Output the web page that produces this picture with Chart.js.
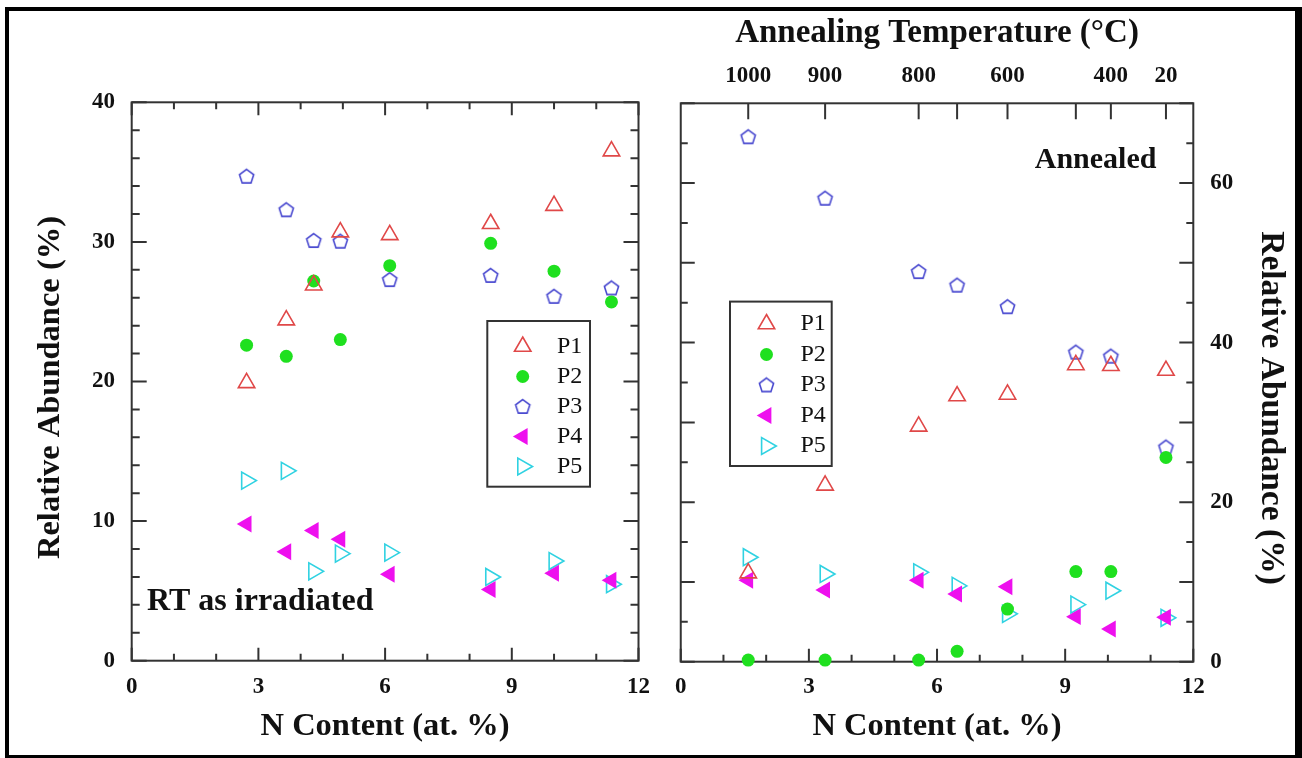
<!DOCTYPE html>
<html>
<head>
<meta charset="utf-8">
<script src="https://cdn.jsdelivr.net/npm/chart.js@4.4.1/dist/chart.umd.min.js"></script>
<style>
  html, body { margin: 0; padding: 0; background: #fff; }
  #wrap { position: relative; width: 1302px; height: 758px; overflow: hidden; background: #fff; }
  canvas { position: absolute; top: 0; }
  #leftChart { left: 0; }
  #rightChart { left: 663px; }
  #frame {
    position: absolute; left: 5px; top: 7px; width: 1297px; height: 751px;
    box-sizing: border-box; border-style: solid; border-color: #000;
    border-width: 4px 7px 3px 4px; pointer-events: none;
  }
</style>
</head>
<body>
<div id="wrap">
  <canvas id="leftChart" width="663" height="758"></canvas>
  <canvas id="rightChart" width="639" height="758"></canvas>
  <div id="frame"></div>
</div>
<script>
const seriesNames = ['P1', 'P2', 'P3', 'P4', 'P5'];

// RT as irradiated
const nLeft = [2.72, 3.66, 4.31, 4.94, 6.11, 8.50, 10.0, 11.36];
const p1Left = [19.9, 24.4, 26.9, 30.7, 30.5, 31.3, 32.6, 36.5];
const p2Left = [22.6, 21.8, 27.2, 23.0, 28.3, 29.9, 27.9, 25.7];
const p3Left = [34.7, 32.3, 30.1, 30.05, 27.3, 27.6, 26.1, 26.7];
const p4Left = [9.8, 7.8, 9.33, 8.7, 6.2, 5.1, 6.26, 5.76];
const p5Left = [12.9, 13.6, 6.4, 7.67, 7.74, 6.0, 7.14, 5.48];

// annealed
const nRight = [1.58, 3.38, 5.57, 6.47, 7.65, 9.25, 10.07, 11.36];
const p1Right = [11.1, 22.1, 29.5, 33.3, 33.5, 37.2, 37.1, 36.5];
const p2Right = [0.2, 0.2, 0.2, 1.3, 6.6, 11.3, 11.3, 25.6];
const p3Right = [65.8, 58.1, 48.9, 47.2, 44.5, 38.8, 38.3, 26.9];
const p4Right = [10.2, 9.0, 10.2, 8.5, 9.4, 5.65, 4.1, 5.56];
const p5Right = [13.1, 11.0, 11.2, 9.5, 6.0, 7.15, 8.9, 5.5];

// top axis of the annealed panel
const tempPositions = [1.58, 3.38, 5.57, 6.47, 7.65, 9.25, 10.07, 11.36];
const tempLabels = ['1000', '900', '800', '', '600', '', '400', '20'];

const serif = '"Liberation Serif", "Times New Roman", serif';
const tickFont = { family: serif, size: 23, weight: 'bold' };
const ink = '#111';

function pentagon(color, r, lw) {
  const s = Math.ceil(2 * r + lw + 2);
  const c = document.createElement('canvas');
  c.width = s; c.height = s;
  const g = c.getContext('2d');
  g.strokeStyle = color; g.lineWidth = lw;
  g.beginPath();
  for (let i = 0; i < 5; i++) {
    const a = -Math.PI / 2 + i * 2 * Math.PI / 5;
    const px = s / 2 + r * Math.cos(a), py = s / 2 + 0.6 + r * Math.sin(a);
    if (i) g.lineTo(px, py); else g.moveTo(px, py);
  }
  g.closePath();
  g.stroke();
  return c;
}

const styles = [
  { pointStyle: 'triangle', pointRadius: 9.5, pointRotation: 0, pointBorderColor: '#e04848', pointBackgroundColor: 'rgba(0,0,0,0)', pointBorderWidth: 1.6 },
  { pointStyle: 'circle', pointRadius: 6.5, pointRotation: 0, pointBorderColor: '#1fe01f', pointBackgroundColor: '#1fe01f', pointBorderWidth: 0 },
  { pointStyle: pentagon('#4a4ad0', 7.5, 1.6), pointRadius: 8, pointRotation: 0, pointBorderColor: '#4a4ad0', pointBackgroundColor: 'rgba(0,0,0,0)', pointBorderWidth: 1.6 },
  { pointStyle: 'triangle', pointRadius: 9.8, pointRotation: -90, pointBorderColor: '#ee10ee', pointBackgroundColor: '#ee10ee', pointBorderWidth: 0 },
  { pointStyle: 'triangle', pointRadius: 9.8, pointRotation: 90, pointBorderColor: '#30d2e2', pointBackgroundColor: 'rgba(0,0,0,0)', pointBorderWidth: 1.6 }
];

function makeDatasets(xs, series) {
  return series.map((ys, i) => Object.assign({
    label: seriesNames[i],
    data: xs.map((x, j) => ({ x: x, y: ys[j] })),
    showLine: false,
    clip: false
  }, styles[i]));
}

// ticks pointing into the plot, plus the box round it
function innerTicks(marks) {
  return {
    id: 'innerTicks',
    beforeDatasetsDraw(chart) {
      const { ctx, chartArea: a } = chart;
      ctx.save();
      ctx.strokeStyle = '#333';
      ctx.lineWidth = 2;
      ctx.strokeRect(a.left, a.top, a.width, a.height);
      ctx.beginPath();
      marks.forEach(m => {
        const scale = chart.scales[m.scale];
        scale.ticks.forEach(t => {
          const p = scale.getPixelForValue(t.value);
          const q = m.every ? t.value / m.every : 0.5;
          const len = Math.abs(q - Math.round(q)) < 1e-6 ? m.long : m.short;
          m.edges.forEach(edge => {
            if (edge === 'bottom') { ctx.moveTo(p, a.bottom); ctx.lineTo(p, a.bottom - len); }
            if (edge === 'top') { ctx.moveTo(p, a.top); ctx.lineTo(p, a.top + len); }
            if (edge === 'left') { ctx.moveTo(a.left, p); ctx.lineTo(a.left + len, p); }
            if (edge === 'right') { ctx.moveTo(a.right, p); ctx.lineTo(a.right - len, p); }
          });
        });
      });
      ctx.stroke();
      ctx.restore();
    }
  };
}

function boxLegend(box) {
  return {
    id: 'boxLegend',
    afterDraw(chart) {
      const ctx = chart.ctx;
      ctx.save();
      ctx.strokeStyle = '#333';
      ctx.lineWidth = 2;
      ctx.strokeRect(box.x, box.y, box.w, box.h);
      chart.data.datasets.forEach((ds, i) => {
        const y = box.row0 + i * box.step;
        ctx.fillStyle = ds.pointBackgroundColor;
        ctx.strokeStyle = ds.pointBorderColor;
        ctx.lineWidth = ds.pointBorderWidth || 1;
        if (Chart.helpers && Chart.helpers.drawPoint) {
          Chart.helpers.drawPoint(ctx, {
            pointStyle: ds.pointStyle, radius: ds.pointRadius,
            rotation: ds.pointRotation, borderWidth: ds.pointBorderWidth
          }, box.symX, y);
        }
        ctx.fillStyle = ink;
        ctx.font = '24px ' + serif;
        ctx.textBaseline = 'middle';
        ctx.textAlign = 'left';
        ctx.fillText(ds.label, box.textX, y);
      });
      ctx.restore();
    }
  };
}

function notes(items) {
  return {
    id: 'notes',
    afterDraw(chart) {
      const ctx = chart.ctx;
      items.forEach(n => {
        ctx.save();
        ctx.fillStyle = ink;
        ctx.font = 'bold ' + n.size + 'px ' + serif;
        ctx.textAlign = n.align;
        ctx.textBaseline = n.baseline || 'alphabetic';
        ctx.translate(n.x, n.y);
        if (n.rotate) ctx.rotate(n.rotate);
        ctx.fillText(n.text, 0, 0);
        ctx.restore();
      });
    }
  };
}

const noGrid = { display: false, drawTicks: false };
const noBorder = { display: false };

new Chart(document.getElementById('leftChart'), {
  type: 'scatter',
  data: { datasets: makeDatasets(nLeft, [p1Left, p2Left, p3Left, p4Left, p5Left]) },
  options: {
    responsive: false,
    animation: false,
    events: [],
    layout: { padding: { top: 102.3, right: 13, left: 0, bottom: 0 } },
    plugins: { legend: { display: false }, tooltip: { enabled: false } },
    scales: {
      x: {
        type: 'linear', min: 0, max: 12,
        grid: noGrid, border: noBorder,
        afterFit: s => { s.height = 97.3; },
        ticks: { stepSize: 1, maxTicksLimit: 100, autoSkip: false, maxRotation: 0, padding: 13, color: ink, font: tickFont,
                 callback: v => (v % 3 === 0 ? String(v) : '') },
        title: { display: true, text: 'N Content (at. %)', color: ink,
                 font: { family: serif, size: 32.5, weight: 'bold' }, padding: { top: 0, bottom: 11.5 } }
      },
      y: {
        type: 'linear', min: 0, max: 40,
        grid: noGrid, border: noBorder,
        afterFit: s => { s.width = 131.7; },
        ticks: { stepSize: 2, maxTicksLimit: 100, autoSkip: false, padding: 16.7, color: ink, font: tickFont,
                 callback: v => (v % 10 === 0 ? String(v) : '') },
        title: { display: false }
      }
    }
  },
  plugins: [
    innerTicks([
      { scale: 'x', edges: ['bottom', 'top'], every: 3, long: 13, short: 7 },
      { scale: 'y', edges: ['left', 'right'], every: 10, long: 15, short: 8 }
    ]),
    boxLegend({ x: 487.3, y: 321, w: 102.7, h: 165.7, symX: 522.7, textX: 557, row0: 346.5, step: 30 }),
    notes([
      { text: 'RT as irradiated', x: 147, y: 610, size: 32, align: 'left' },
      { text: 'Relative Abundance (%)', x: 51, y: 387.5, size: 32.5, align: 'center', baseline: 'middle', rotate: -Math.PI / 2 }
    ])
  ]
});

new Chart(document.getElementById('rightChart'), {
  type: 'scatter',
  data: { datasets: makeDatasets(nRight, [p1Right, p2Right, p3Right, p4Right, p5Right]) },
  options: {
    responsive: false,
    animation: false,
    events: [],
    layout: { padding: { top: 0, right: 0, left: 13, bottom: 0 } },
    plugins: { legend: { display: false }, tooltip: { enabled: false } },
    scales: {
      x: {
        type: 'linear', position: 'bottom', min: 0, max: 12,
        grid: noGrid, border: noBorder,
        afterFit: s => { s.height = 96.3; },
        ticks: { stepSize: 1, maxTicksLimit: 100, autoSkip: false, maxRotation: 0, padding: 12, color: ink, font: tickFont,
                 callback: v => (v % 3 === 0 ? String(v) : '') },
        title: { display: true, text: 'N Content (at. %)', color: ink,
                 font: { family: serif, size: 32.5, weight: 'bold' }, padding: { top: 0, bottom: 11.5 } }
      },
      x2: {
        type: 'linear', position: 'top', min: 0, max: 12,
        grid: noGrid, border: noBorder,
        afterBuildTicks: s => { s.ticks = tempPositions.map(v => ({ value: v })); },
        afterFit: s => { s.height = 103.3; },
        ticks: { autoSkip: false, maxRotation: 0, padding: 13.5, color: ink, font: tickFont,
                 callback: (v, i) => tempLabels[i] },
        title: { display: true, text: 'Annealing Temperature (°C)', color: ink,
                 font: { family: serif, size: 33, weight: 'bold' }, padding: { top: 14, bottom: 0 } }
      },
      y: {
        type: 'linear', position: 'right', min: 0, max: 70,
        grid: noGrid, border: noBorder,
        afterFit: s => { s.width = 108.7; },
        ticks: { stepSize: 5, maxTicksLimit: 100, autoSkip: false, padding: 17, color: ink, font: tickFont,
                 callback: v => (v % 20 === 0 ? String(v) : '') },
        title: { display: false }
      }
    }
  },
  plugins: [
    innerTicks([
      { scale: 'x', edges: ['bottom'], every: 3, long: 13, short: 7 },
      { scale: 'x2', edges: ['top'], every: 0, long: 16, short: 16 },
      { scale: 'y', edges: ['left', 'right'], every: 10, long: 14, short: 7 }
    ]),
    boxLegend({ x: 67, y: 301.6, w: 101.7, h: 164.4, symX: 103.5, textX: 137.5, row0: 324, step: 30.5 }),
    notes([
      { text: 'Annealed', x: 493.4, y: 168, size: 30, align: 'right' },
      { text: 'Relative Abundance (%)', x: 608, y: 408, size: 33.5, align: 'center', baseline: 'middle', rotate: Math.PI / 2 }
    ])
  ]
});
</script>
</body>
</html>
